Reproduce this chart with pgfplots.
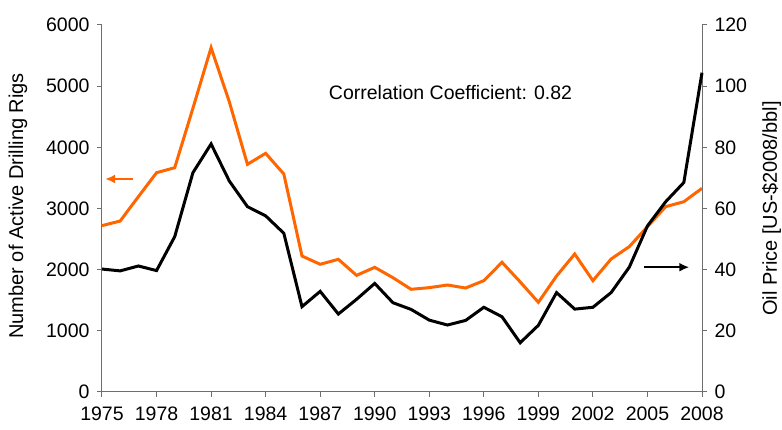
\documentclass[border=0pt]{standalone}
\usepackage{pgfplots}
\pgfplotsset{compat=1.18}
\usepackage{pgfplotstable}
\usepackage{fontspec}
\setmainfont{Liberation Sans}
\usetikzlibrary{arrows.meta}
\definecolor{rigorange}{RGB}{255,102,0}
\definecolor{axgray}{RGB}{110,110,110}

\pgfplotstableread{
year rigs price
1975 2720 40.2
1976 2795 39.6
1977 3193 41.2
1978 3585 39.7
1979 3667 50.8
1980 4638 71.7
1981 5629 81.1
1982 4746 69.0
1983 3722 60.6
1984 3902 57.6
1985 3564 51.9
1986 2223 27.9
1987 2088 32.9
1988 2169 25.5
1989 1907 30.3
1990 2038 35.5
1991 1869 29.2
1992 1679 27.0
1993 1706 23.5
1994 1749 21.9
1995 1700 23.4
1996 1820 27.7
1997 2120 24.6
1998 1800 16.1
1999 1466 21.8
2000 1896 32.5
2001 2256 27.1
2002 1820 27.7
2003 2174 32.5
2004 2376 40.8
2005 2703 54.3
2006 3030 62.2
2007 3111 68.5
2008 3330 104.4
}\datatable

\begin{document}
\begin{tikzpicture}
\useasboundingbox (0,0) rectangle (782pt,430pt);
\pgfplotsset{
  common/.style={
    at={(102pt,38pt)}, anchor=south west,
    scale only axis, width=600pt, height=367pt,
    xmin=1975, xmax=2008,
    font=\fontsize{19.5}{23}\selectfont,
    /pgf/number format/assume math mode=true,
    /pgf/number format/1000 sep={},
    axis line style={axgray, line width=1pt},
    tick style={axgray, line width=1pt},
    tick align=outside,
    major tick length=5pt, minor tick length=5pt,
    clip=false,
  }
}
\begin{axis}[common,
  axis x line*=bottom, axis y line*=left,
  ymin=0, ymax=6000, ytick={0,1000,...,6000},
  xtick={1975,1978,...,2008}, minor x tick num=2,
  xticklabel style={yshift=-6pt},
  yticklabel style={xshift=-4pt},
  ylabel={Number of Active Drilling Rigs},
  ylabel style={at={(axis description cs:-0.14,0.507)}, anchor=center, rotate=0, font=\fontsize{20}{24}\selectfont},
]
\addplot[rigorange, line width=3pt, line join=miter] table[x=year, y=rigs] {\datatable};
\draw[rigorange, line width=2pt, -{Latex[length=10pt,width=9pt]}] (axis cs:1976.69,3482) -- (axis cs:1975.17,3482);
\node[font=\fontsize{19.5}{23}\selectfont, anchor=center] at (axis cs:1994.17,4888) {Correlation Coefficient: 0.82};
\end{axis}
\begin{axis}[common,
  axis x line=none, axis y line*=right,
  ymin=0, ymax=120, ytick={0,20,...,120},
  yticklabel style={xshift=4pt},
  ylabel={Oil Price [US-\$2008/bbl]},
  ylabel style={at={(axis description cs:1.116,0.5)}, anchor=center, rotate=0, font=\fontsize{20}{24}\selectfont},
]
\addplot[black, line width=3pt, line join=miter] table[x=year, y=price] {\datatable};
\draw[black, line width=2pt, -{Latex[length=10pt,width=9pt]}] (axis cs:2004.81,40.8) -- (axis cs:2007.30,40.8);
\end{axis}
\end{tikzpicture}
\end{document}
